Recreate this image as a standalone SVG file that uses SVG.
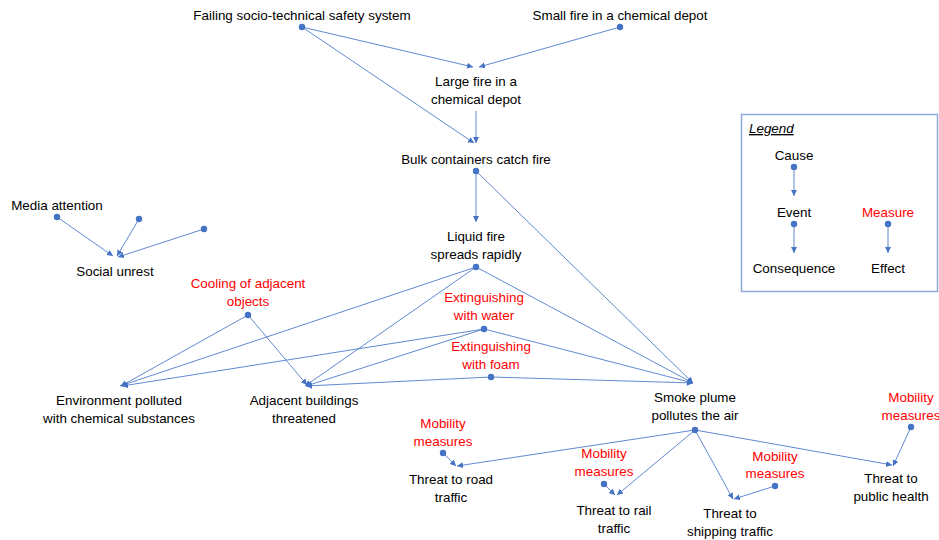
<svg xmlns="http://www.w3.org/2000/svg" width="939" height="540" viewBox="0 0 939 540">
<style>
text{font-family:"Liberation Sans",Arial,sans-serif;font-size:13.4px;fill:#000;text-anchor:middle}
.m{fill:#FF0000}
.c{stroke:#4F7BCB;stroke-width:0.9;fill:none;marker-end:url(#ah)}
.d{fill:#4472C4}
</style>
<defs>
<marker id="ah" markerUnits="userSpaceOnUse" markerWidth="10" markerHeight="10" refX="6" refY="3" orient="auto">
<path d="M0,0 L6,3 L0,6 Z" fill="#4472C4"/>
</marker>
</defs>
<rect width="939" height="540" fill="#fff"/>
<g id="connectors">
<line class="c" x1="302" y1="27" x2="473" y2="67"/>
<line class="c" x1="620" y1="27" x2="479" y2="67"/>
<line class="c" x1="302" y1="27" x2="474" y2="143"/>
<line class="c" x1="476" y1="111" x2="476" y2="143"/>
<line class="c" x1="476" y1="171" x2="476" y2="222"/>
<line class="c" x1="476" y1="171" x2="693" y2="383"/>
<line class="c" x1="476" y1="267" x2="120" y2="386"/>
<line class="c" x1="476" y1="267" x2="305" y2="386"/>
<line class="c" x1="476" y1="267" x2="693" y2="383"/>
<line class="c" x1="248" y1="315" x2="121" y2="386"/>
<line class="c" x1="248" y1="315" x2="307" y2="385"/>
<line class="c" x1="484" y1="329" x2="122" y2="386"/>
<line class="c" x1="484" y1="329" x2="306" y2="386"/>
<line class="c" x1="484" y1="329" x2="693" y2="383"/>
<line class="c" x1="491" y1="377" x2="306" y2="386"/>
<line class="c" x1="491" y1="377" x2="693" y2="383"/>
<line class="c" x1="57" y1="217" x2="113" y2="256"/>
<line class="c" x1="139" y1="219" x2="117" y2="256"/>
<line class="c" x1="204" y1="229" x2="118" y2="257"/>
<line class="c" x1="695" y1="430" x2="457" y2="466"/>
<line class="c" x1="443" y1="453" x2="456" y2="466"/>
<line class="c" x1="695" y1="430" x2="617" y2="495"/>
<line class="c" x1="604" y1="484" x2="615" y2="495"/>
<line class="c" x1="695" y1="430" x2="733" y2="499"/>
<line class="c" x1="775" y1="486" x2="734" y2="499"/>
<line class="c" x1="695" y1="430" x2="892" y2="465"/>
<line class="c" x1="911" y1="427" x2="893" y2="466"/>
</g>
<g id="n-failing"><text x="302" y="20">Failing socio-technical safety system</text><circle class="d" cx="302" cy="27" r="3.2"/></g>
<g id="n-smallfire"><text x="620" y="20">Small fire in a chemical depot</text><circle class="d" cx="620" cy="27" r="3.2"/></g>
<g id="n-largefire"><text x="476" y="86">Large fire in a</text><text x="476" y="104">chemical depot</text></g>
<g id="n-bulk"><text x="476" y="164">Bulk containers catch fire</text><circle class="d" cx="476" cy="171" r="3.2"/></g>
<g id="n-liquid"><text x="476" y="241">Liquid fire</text><text x="476" y="259">spreads rapidly</text><circle class="d" cx="476" cy="267" r="3.2"/></g>
<g id="n-cooling"><text class="m" x="248" y="288">Cooling of adjacent</text><text class="m" x="248" y="306">objects</text><circle class="d" cx="248" cy="315" r="3.2"/></g>
<g id="n-water"><text class="m" x="484" y="302">Extinguishing</text><text class="m" x="484" y="320">with water</text><circle class="d" cx="484" cy="329" r="3.2"/></g>
<g id="n-foam"><text class="m" x="491" y="351">Extinguishing</text><text class="m" x="491" y="369">with foam</text><circle class="d" cx="491" cy="377" r="3.2"/></g>
<g id="n-env"><text x="119" y="405">Environment polluted</text><text x="119" y="423">with chemical substances</text></g>
<g id="n-adjacent"><text x="304" y="405">Adjacent buildings</text><text x="304" y="423">threatened</text></g>
<g id="n-smoke"><text x="695" y="402">Smoke plume</text><text x="695" y="420">pollutes the air</text><circle class="d" cx="695" cy="430" r="3.2"/></g>
<g id="n-media"><text x="57" y="210">Media attention</text><circle class="d" cx="57" cy="217" r="3.2"/></g>
<g id="n-dot2"><circle class="d" cx="139" cy="219" r="3.2"/></g>
<g id="n-dot3"><circle class="d" cx="204" cy="229" r="3.2"/></g>
<g id="n-social"><text x="115" y="276">Social unrest</text></g>
<g id="n-mob-road"><text class="m" x="443" y="428">Mobility</text><text class="m" x="443" y="446">measures</text><circle class="d" cx="443" cy="453" r="3.2"/></g>
<g id="n-road"><text x="451" y="484">Threat to road</text><text x="451" y="502">traffic</text></g>
<g id="n-mob-rail"><text class="m" x="604" y="458">Mobility</text><text class="m" x="604" y="476">measures</text><circle class="d" cx="604" cy="484" r="3.2"/></g>
<g id="n-rail"><text x="614" y="515">Threat to rail</text><text x="614" y="533">traffic</text></g>
<g id="n-mob-ship"><text class="m" x="775" y="461">Mobility</text><text class="m" x="775" y="478">measures</text><circle class="d" cx="775" cy="486" r="3.2"/></g>
<g id="n-ship"><text x="730" y="518">Threat to</text><text x="730" y="536">shipping traffic</text></g>
<g id="n-mob-health"><text class="m" x="911" y="402">Mobility</text><text class="m" x="911" y="420">measures</text><circle class="d" cx="911" cy="427" r="3.2"/></g>
<g id="n-health"><text x="891" y="483">Threat to</text><text x="891" y="501">public health</text></g>
<g id="legend">
<rect x="741.5" y="114.5" width="196" height="177" fill="none" stroke="#8EAADB" stroke-width="1.5"/>
<text x="749" y="133" style="text-anchor:start;font-style:italic;text-decoration:underline">Legend</text>
<text x="794" y="160">Cause</text>
<circle class="d" cx="794" cy="167" r="3.2"/>
<line class="c" x1="794" y1="167" x2="794" y2="196"/>
<text x="794" y="217">Event</text>
<circle class="d" cx="794" cy="224" r="3.2"/>
<line class="c" x1="794" y1="224" x2="794" y2="253"/>
<text x="794" y="273">Consequence</text>
<text class="m" x="888" y="217">Measure</text>
<circle class="d" cx="888" cy="224" r="3.2"/>
<line class="c" x1="888" y1="224" x2="888" y2="253"/>
<text x="888" y="273">Effect</text>
</g>
</svg>
